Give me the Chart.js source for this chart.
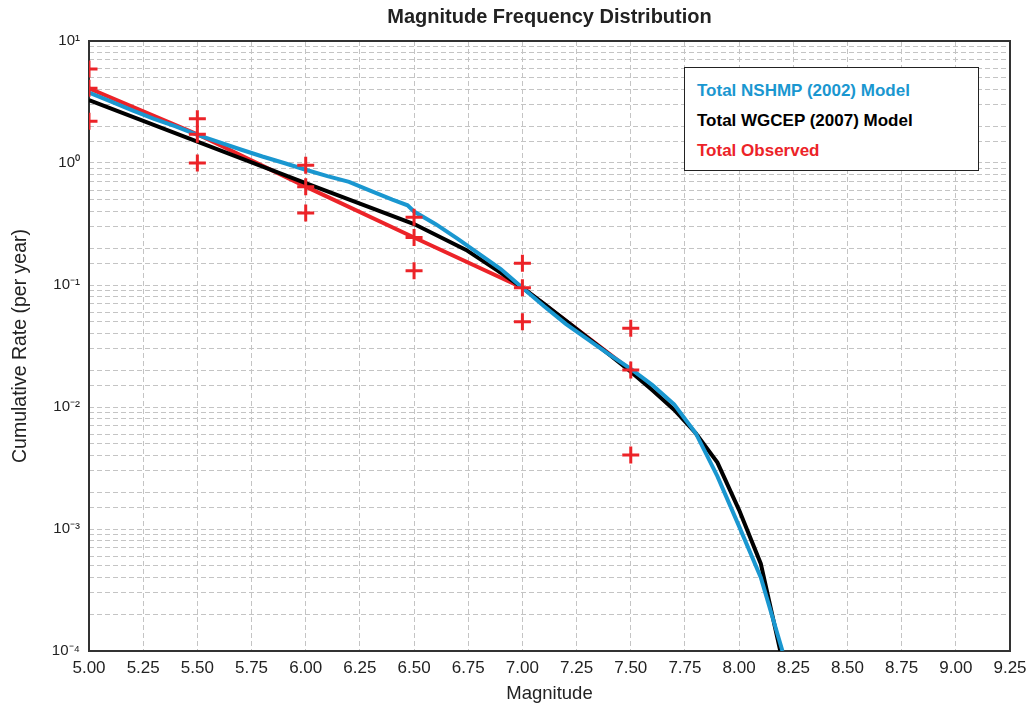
<!DOCTYPE html>
<html>
<head>
<meta charset="utf-8">
<title>Magnitude Frequency Distribution</title>
<script src="https://cdn.jsdelivr.net/npm/chart.js@4.4.0/dist/chart.umd.min.js"></script>
<style>
html, body { margin: 0; padding: 0; background: #fff; }
#wrap { position: relative; width: 1030px; height: 709px; }
#legend {
  position: absolute; left: 684px; top: 67px; width: 295px; height: 104px;
  box-sizing: border-box; border: 1.5px solid #222; background: #fff;
  padding: 8px 0 0 12px;
  font: bold 17px "Liberation Sans", Arial, Helvetica, sans-serif;
}
#legend div { height: 30px; line-height: 30px; white-space: nowrap; }
</style>
</head>
<body>
<div id="wrap">
  <canvas id="chart" width="1030" height="709"></canvas>
  <div id="legend"></div>
</div>
<script>
// magnitudes / cumulative rates
var nshmpMag  = [5.0, 5.1, 5.2, 5.3, 5.4, 5.5, 5.6, 5.7, 5.8, 5.9, 6.0, 6.1, 6.2, 6.3, 6.4, 6.47, 6.5, 6.6, 6.7, 6.8, 6.9, 7.0, 7.1, 7.2, 7.3, 7.4, 7.5, 7.6, 7.7, 7.8, 7.9, 8.0, 8.1, 8.2];
var nshmpRate = [3.77, 3.2, 2.7, 2.3, 2.0, 1.70, 1.48, 1.29, 1.13, 1.0, 0.88, 0.78, 0.70, 0.59, 0.50, 0.45, 0.40, 0.315, 0.24, 0.18, 0.135, 0.095, 0.067, 0.048, 0.036, 0.027, 0.0205, 0.0151, 0.0105, 0.0061, 0.0027, 0.00105, 0.0004, 0.0001];

var wgcepMag  = [5.0, 5.5, 6.0, 6.5, 6.74, 6.88, 7.0, 7.1, 7.2, 7.3, 7.4, 7.5, 7.6, 7.7, 7.8, 7.9, 8.0, 8.1, 8.19];
var wgcepRate = [3.28, 1.50, 0.685, 0.316, 0.194, 0.133, 0.095, 0.070, 0.051, 0.037, 0.027, 0.0195, 0.0137, 0.0095, 0.0061, 0.0035, 0.00143, 0.00052, 0.0001];

var obsMag   = [5.0, 5.5, 6.0, 6.5, 7.0, 7.5];
var obsRate  = [4.1, 1.72, 0.64, 0.245, 0.095, 0.0201];
var obsUpper = [5.9, 2.3, 0.96, 0.36, 0.151, 0.0442];
var obsLower = [2.2, 1.0, 0.39, 0.131, 0.050, 0.00404];

var magMin = 5.0, magMax = 9.25, magStep = 0.25;
var rateMin = 1e-4, rateMax = 10;

var BLUE = '#1a97d0', BLACK = '#000000', RED = '#ec2328';
var FONT = '"Liberation Sans", Arial, Helvetica, sans-serif';

function pts(xs, ys) {
  return xs.map(function (x, i) { return { x: x, y: ys[i] }; });
}

var SUP = { '-': '\u207B', '0': '\u2070', '1': '\u00B9', '2': '\u00B2', '3': '\u00B3', '4': '\u2074', '5': '\u2075' };
function powLabel(v) {
  var e = Math.log10(v);
  var r = Math.round(e);
  if (Math.abs(e - r) > 1e-6) return '';
  return '10' + String(r).split('').map(function (c) { return SUP[c]; }).join('');
}

// box round the plot area
var frame = {
  id: 'frame',
  beforeDatasetsDraw: function (chart) {
    var a = chart.chartArea, c = chart.ctx;
    c.save();
    c.strokeStyle = '#333';
    c.lineWidth = 2;
    c.strokeRect(a.left, a.top, a.right - a.left, a.bottom - a.top);
    c.restore();
  }
};

Chart.defaults.font.family = FONT;
Chart.defaults.color = '#222';

var gridOpts = { color: '#c4c4c4', lineWidth: 1, drawTicks: false };
var borderOpts = { display: false, dash: [5, 3] };

var chart = new Chart(document.getElementById('chart'), {
  type: 'line',
  data: {
    datasets: [
      { label: 'Total NSHMP (2002) Model', data: pts(nshmpMag, nshmpRate), borderColor: BLUE, borderWidth: 4, pointRadius: 0, order: 1, clip: 0 },
      { label: 'Total WGCEP (2007) Model', data: pts(wgcepMag, wgcepRate), borderColor: BLACK, borderWidth: 4, pointRadius: 0, order: 2, clip: 0 },
      { label: 'Total Observed', data: pts(obsMag, obsRate), borderColor: RED, borderWidth: 4, pointRadius: 0, order: 3, clip: 0 },
      { label: 'obs', data: pts(obsMag, obsUpper).concat(pts(obsMag, obsRate), pts(obsMag, obsLower)),
        showLine: false, pointStyle: 'cross', pointRadius: 8.5, pointBorderWidth: 3,
        pointBorderColor: RED, borderColor: RED, order: 0, clip: 0 }
    ]
  },
  options: {
    responsive: false,
    animation: false,
    events: [],
    layout: { padding: { left: 0, right: 20, top: 0, bottom: 0 } },
    plugins: {
      legend: { display: false },
      tooltip: { enabled: false },
      title: {
        display: true, fullSize: false,
        text: 'Magnitude Frequency Distribution',
        color: '#222',
        font: { size: 20, weight: 'bold' },
        padding: { top: 5, bottom: 12 }
      }
    },
    scales: {
      x: {
        type: 'linear', min: magMin, max: magMax,
        grid: gridOpts, border: borderOpts,
        ticks: { stepSize: magStep, autoSkip: false, maxRotation: 0, padding: 7, font: { size: 17 },
          callback: function (v) { return Number(v).toFixed(2); } },
        title: { display: true, text: 'Magnitude', font: { size: 18.5 }, padding: { top: 0, bottom: 4 } },
        afterFit: function (s) { s.height = 58; s.paddingRight = 20; s.paddingLeft = 0; }
      },
      y: {
        type: 'logarithmic', min: rateMin, max: rateMax,
        grid: gridOpts, border: borderOpts,
        ticks: { autoSkip: false, padding: 9, font: { size: 15 }, callback: powLabel },
        title: { display: true, text: 'Cumulative Rate (per year)', font: { size: 19.5 }, padding: { top: 9, bottom: 0 } },
        afterFit: function (s) { s.width = 89; }
      }
    }
  },
  plugins: [frame]
});

// legend: coloured text only, from the first three datasets
var leg = document.getElementById('legend');
chart.data.datasets.slice(0, 3).forEach(function (ds) {
  var d = document.createElement('div');
  d.textContent = ds.label;
  d.style.color = ds.borderColor;
  leg.appendChild(d);
});
</script>
</body>
</html>
